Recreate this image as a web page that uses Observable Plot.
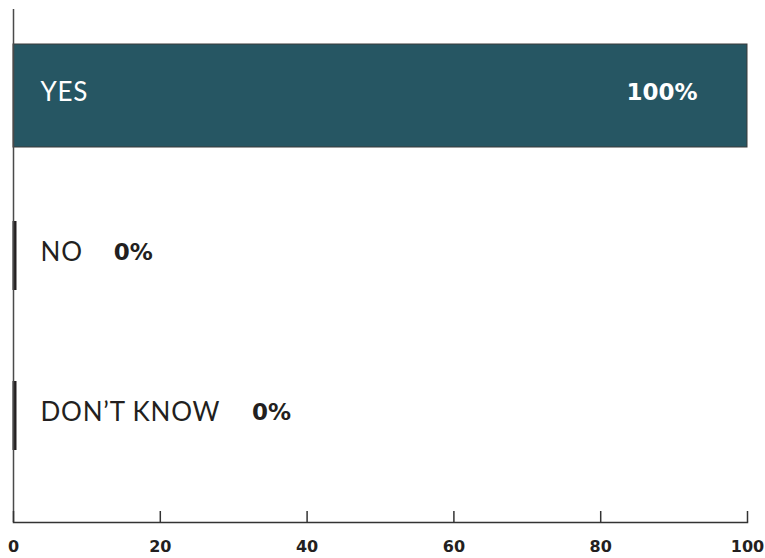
<!DOCTYPE html>
<html><head><meta charset="utf-8">
<script src="https://cdn.jsdelivr.net/npm/d3@7"></script>
<script src="https://cdn.jsdelivr.net/npm/@observablehq/plot@0.6"></script>
<style>body{margin:0;background:#fff} svg{display:block}</style>
</head><body><div id="chart"></div>
<script>
const answers = ["YES", "NO", "DON’T KNOW"];
const percents = [100, 0, 0];
const xTicks = [0, 20, 40, 60, 80, 100];

const data = answers.map((a, i) => ({answer: a, value: percents[i]}));

const labelFont = "Lato, 'Open Sans', sans-serif";
const numFont = "'DejaVu Sans', sans-serif";
const labelSize = 26, labelWeight = 400, labelSpacing = 0.8;
const ctx = document.createElement("canvas").getContext("2d");
ctx.font = `${labelWeight} ${labelSize}px Lato`;
const measure = (s) => ctx.measureText(s).width + labelSpacing * s.length;
const labelDx = 27;

const zeroRows = data.filter(d => d.value === 0);
const posRows = data.filter(d => d.value > 0);

const chart = Plot.plot({
  width: 765,
  height: 558,
  marginLeft: 13,
  marginRight: 18,
  marginTop: 9,
  marginBottom: 36,
  style: {fontFamily: labelFont, background: "#fff"},
  x: {domain: [0, 100], axis: null, label: null},
  y: {domain: answers, range: [43, 469], paddingInner: 0.354, paddingOuter: 0, axis: null, label: null},
  marks: [
    Plot.barX(data, {x: "value", y: "answer", fill: "#265663", stroke: "#3a3a3a", strokeWidth: 1}),
    Plot.tickX(zeroRows, {x: "value", y: "answer", stroke: "#231f20", strokeWidth: 4, insetTop: 17, insetBottom: 17, dx: 1}),
    Plot.ruleX([0], {stroke: "#4a4a4a", strokeWidth: 1.5}),
    Plot.frame({anchor: "bottom", stroke: "#333", strokeWidth: 1.5}),
    Plot.ruleX(xTicks, {x: d => d, insetTop: 502, stroke: "#333", strokeWidth: 1.5}),
    Plot.axisX({ticks: xTicks, tickSize: 0, tickPadding: 18, label: null, fontSize: 16, fontWeight: 700,
      fontFamily: numFont, fill: "#231f20", tickFormat: d => d}),
    Plot.text(data, {x: 0, y: "answer", text: "answer", textAnchor: "start", dx: labelDx, dy: -3,
      fill: d => d.value > 0 ? "#ffffff" : "#231f20", fontSize: labelSize, fontWeight: labelWeight}),
    Plot.text(posRows, {x: "value", y: "answer", text: d => d.value + "%", textAnchor: "end", dx: -50, dy: -3,
      fill: "#ffffff", fontSize: 23, fontWeight: 700, fontFamily: numFont}),
    ...zeroRows.map(d => Plot.text([d], {x: "value", y: "answer", text: r => r.value + "%", textAnchor: "start",
      dx: labelDx + measure(d.answer) + 31, dy: -3, fill: "#231f20", fontSize: 23, fontWeight: 700, fontFamily: numFont}))
  ]
});
chart.querySelectorAll("g[font-size='26'] text, text[font-size='26']").forEach(t => { t.style.letterSpacing = labelSpacing + "px"; });
document.getElementById("chart").append(chart);
</script>
</body></html>
